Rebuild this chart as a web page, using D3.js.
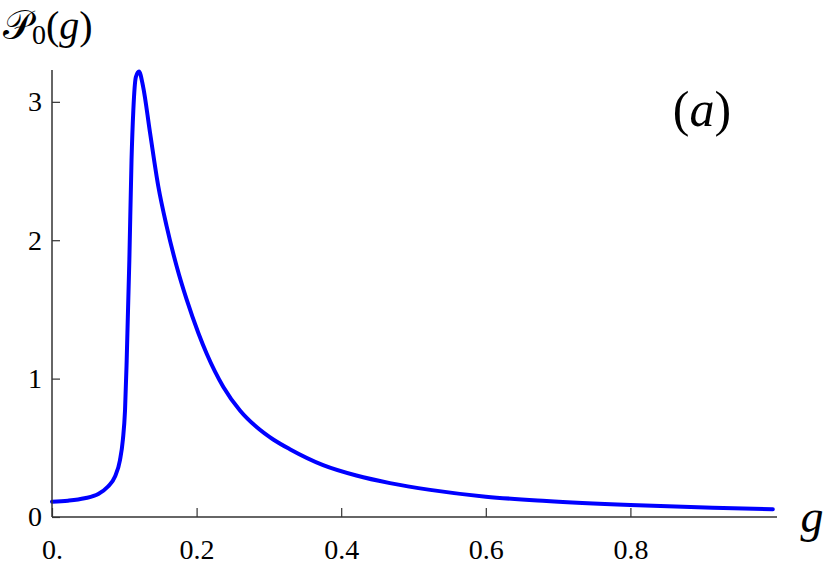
<!DOCTYPE html>
<html>
<head>
<meta charset="utf-8">
<script src="https://cdn.jsdelivr.net/npm/d3@7"></script>
<style>
  html, body { margin: 0; padding: 0; background: #fff; }
  svg { display: block; }
</style>
</head>
<body>
<svg id="chart" width="830" height="570"></svg>
<script>
// Data
const gValues = [0, 0.022, 0.045, 0.064, 0.0775, 0.087, 0.094, 0.098, 0.101, 0.1033, 0.107, 0.110, 0.1125, 0.116, 0.1203, 0.126, 0.1355, 0.147, 0.1586, 0.1725, 0.1863, 0.2024, 0.214, 0.237, 0.26, 0.283, 0.306, 0.329, 0.375, 0.421, 0.4675, 0.523, 0.6, 0.684, 0.8, 0.914, 0.997];
const pValues = [0.111, 0.118, 0.135, 0.166, 0.22, 0.29, 0.41, 0.557, 0.77, 1.13, 1.86, 2.58, 2.94, 3.18, 3.22, 3.11, 2.78, 2.39, 2.10, 1.81, 1.57, 1.33, 1.18, 0.94, 0.77, 0.65, 0.56, 0.49, 0.375, 0.30, 0.245, 0.196, 0.147, 0.116, 0.087, 0.067, 0.056];
const xTicks = [0, 0.2, 0.4, 0.6, 0.8];
const xTickLabels = ["0.", "0.2", "0.4", "0.6", "0.8"];
const yTicks = [0, 1, 2, 3];
const yTickLabels = ["0", "1", "2", "3"];

const FONT = "'Liberation Serif'";
const svg = d3.select("#chart");
const x = d3.scaleLinear().domain([0, 1]).range([52, 775]);
const y = d3.scaleLinear().domain([0, 3.23]).range([517, 70]);
const axisColor = "#333";

// curve
const pts = gValues.map((g, i) => [g, pValues[i]]);
const line = d3.line().x(d => x(d[0])).y(d => y(d[1])).curve(d3.curveMonotoneX);
svg.append("path").datum(pts).attr("d", line)
  .attr("fill", "none").attr("stroke", "#0000ff").attr("stroke-width", 4)
  .attr("stroke-linejoin", "round").attr("stroke-linecap", "round");

// x axis
const xAxis = d3.axisBottom(x).tickValues(xTicks).tickSize(-9).tickPadding(22)
  .tickFormat((d, i) => xTickLabels[i]);
const gx = svg.append("g").attr("transform", "translate(0,517)").call(xAxis)
  .attr("font-family", null).attr("font-size", null);
gx.select(".domain").remove();
gx.append("line").attr("x1", 52).attr("x2", 777).attr("y1", 0).attr("y2", 0)
  .attr("stroke", axisColor).attr("stroke-width", 1.5);
gx.selectAll(".tick line").attr("stroke", axisColor).attr("stroke-width", 1.2);
gx.selectAll(".tick text").attr("font-size", 28).style("font-family", FONT).attr("fill", "#000");

// y axis
const yAxis = d3.axisLeft(y).tickValues(yTicks).tickSize(-8).tickPadding(10)
  .tickFormat((d, i) => yTickLabels[i]);
const gy = svg.append("g").attr("transform", "translate(52,0)").call(yAxis)
  .attr("font-family", null).attr("font-size", null);
gy.select(".domain").remove();
gy.append("line").attr("x1", 0).attr("x2", 0).attr("y1", 70).attr("y2", 517)
  .attr("stroke", axisColor).attr("stroke-width", 1.5);
gy.selectAll(".tick line").attr("stroke", axisColor).attr("stroke-width", 1.2);
gy.selectAll(".tick text").attr("font-size", 28).style("font-family", FONT).attr("fill", "#000");

// y axis title
const yl = svg.append("text").attr("x", 3).attr("y", 39)
  .attr("font-size", 40).style("font-family", FONT);
yl.append("tspan").text("𝒫");
yl.append("tspan").text("0").attr("font-size", 28).attr("dy", 5);
yl.append("tspan").text("(").attr("dy", -5);
yl.append("tspan").text("g").attr("font-style", "italic");
yl.append("tspan").text(")");

// x axis title
svg.append("text").attr("x", 812).attr("y", 532).attr("text-anchor", "middle")
  .attr("font-size", 46).style("font-family", FONT).attr("font-style", "italic").text("g");

// panel label
const al = svg.append("text").attr("x", 702).attr("y", 126).attr("text-anchor", "middle")
  .attr("font-size", 50).style("font-family", FONT);
al.append("tspan").text("(");
al.append("tspan").text("a").attr("font-style", "italic");
al.append("tspan").text(")");
</script>
</body>
</html>
